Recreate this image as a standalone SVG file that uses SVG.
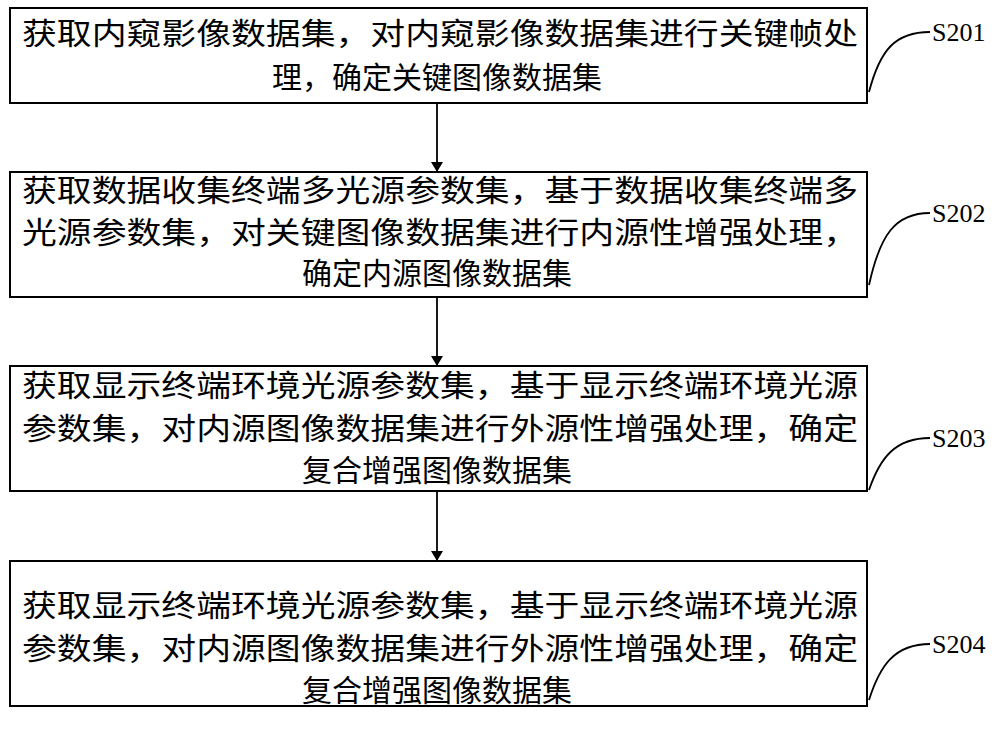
<svg xmlns="http://www.w3.org/2000/svg" width="1000" height="729" viewBox="0 0 1000 729">
<style>
.b{fill:#fff;stroke:#000;stroke-width:2}
.t{font-family:"Noto Sans CJK SC","Noto Sans CJK JP",sans-serif;font-size:30px;fill:#000}
.c{text-anchor:middle}
.l{font-family:"Liberation Serif",serif;font-size:26px;fill:#000}
.k{fill:none;stroke:#000;stroke-width:1.8}
</style>
<defs><marker id="a" markerWidth="10" markerHeight="12" refX="9" refY="6" orient="auto" markerUnits="userSpaceOnUse"><path d="M0,0 L10,6 L0,12 Z" fill="#000"/></marker></defs>
<rect width="1000" height="729" fill="#fff"/>
<g id="n1"><rect class="b" x="10" y="8" width="857" height="95"/>
<text class="t" x="22" y="44" textLength="836" lengthAdjust="spacingAndGlyphs">获取内窥影像数据集，对内窥影像数据集进行关键帧处</text>
<text class="t c" x="437" y="88">理，确定关键图像数据集</text></g>
<g id="n2"><rect class="b" x="10" y="172" width="857" height="125"/>
<text class="t" x="22" y="201" textLength="836" lengthAdjust="spacingAndGlyphs">获取数据收集终端多光源参数集，基于数据收集终端多</text>
<text class="t" x="22" y="243" textLength="836" lengthAdjust="spacingAndGlyphs">光源参数集，对关键图像数据集进行内源性增强处理，</text>
<text class="t c" x="437" y="284">确定内源图像数据集</text></g>
<g id="n3"><rect class="b" x="10" y="366" width="857" height="125"/>
<text class="t" x="22" y="396" textLength="836" lengthAdjust="spacingAndGlyphs">获取显示终端环境光源参数集，基于显示终端环境光源</text>
<text class="t" x="22" y="439" textLength="836" lengthAdjust="spacingAndGlyphs">参数集，对内源图像数据集进行外源性增强处理，确定</text>
<text class="t c" x="437" y="481">复合增强图像数据集</text></g>
<g id="n4"><rect class="b" x="10" y="561" width="857" height="145"/>
<text class="t" x="22" y="616" textLength="836" lengthAdjust="spacingAndGlyphs">获取显示终端环境光源参数集，基于显示终端环境光源</text>
<text class="t" x="22" y="659" textLength="836" lengthAdjust="spacingAndGlyphs">参数集，对内源图像数据集进行外源性增强处理，确定</text>
<text class="t c" x="437" y="701">复合增强图像数据集</text></g>
<g id="labels">
<text class="l" x="932" y="41">S201</text>
<text class="l" x="932" y="222">S202</text>
<text class="l" x="932" y="447">S203</text>
<text class="l" x="932" y="653">S204</text>
</g>
<g id="connectors">
<line class="k" x1="437" y1="103" x2="437" y2="171" marker-end="url(#a)"/>
<line class="k" x1="437" y1="297" x2="437" y2="365" marker-end="url(#a)"/>
<line class="k" x1="437" y1="491" x2="437" y2="560" marker-end="url(#a)"/>
<path class="k" d="M869,92 C880,50 895,32 930,32"/>
<path class="k" d="M869,285 C880,235 895,213 930,213"/>
<path class="k" d="M869,490 C880,458 895,438 930,438"/>
<path class="k" d="M869,700 C880,665 895,644 930,644"/>
</g>
</svg>
